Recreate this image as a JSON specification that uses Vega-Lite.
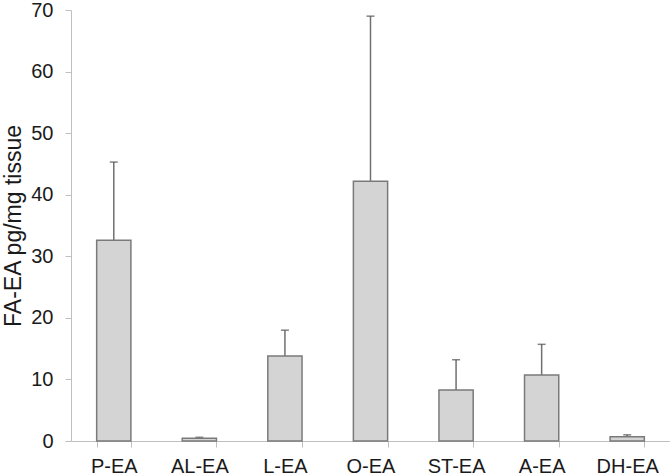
{
  "$schema": "https://vega.github.io/schema/vega-lite/v6.json",
  "width": 599,
  "height": 431,
  "autosize": {"type": "none"},
  "padding": {"left": 71, "top": 10, "right": 0, "bottom": 34},
  "background": "white",
  "config": {
    "view": {"stroke": null},
    "font": "Liberation Sans",
    "axis": {"labelFont": "Liberation Sans", "titleFont": "Liberation Sans", "labelColor": "#1a1a1a", "titleColor": "#1a1a1a", "labelFontSize": 20, "titleFontSize": 23, "titleFontWeight": "normal", "domainColor": "#bfbfbf", "tickColor": "#bfbfbf", "grid": false}
  },
  "data": {
    "values": [
      {"fa": "P-EA", "mean": 32.6, "upper": 45.3},
      {"fa": "AL-EA", "mean": 0.45, "upper": 0.6},
      {"fa": "L-EA", "mean": 13.8, "upper": 18.0},
      {"fa": "O-EA", "mean": 42.2, "upper": 69.0},
      {"fa": "ST-EA", "mean": 8.3, "upper": 13.2},
      {"fa": "A-EA", "mean": 10.7, "upper": 15.7},
      {"fa": "DH-EA", "mean": 0.7, "upper": 1.0}
    ]
  },
  "encoding": {
    "x": {
      "field": "fa", "type": "nominal", "sort": null,
      "scale": {"paddingInner": 0.6, "paddingOuter": 0.3},
      "axis": {"title": null, "labelAngle": 0, "tickBand": "extent", "tickSize": 6, "labelPadding": 9}
    }
  },
  "layer": [
    {
      "mark": {"type": "rule", "color": "#707070", "strokeWidth": 1.5},
      "encoding": {
        "y": {"field": "mean", "type": "quantitative"},
        "y2": {"field": "upper"}
      }
    },
    {
      "mark": {"type": "tick", "color": "#505050", "size": 8, "thickness": 1.5},
      "encoding": {
        "y": {"field": "upper", "type": "quantitative"}
      }
    },
    {
      "mark": {"type": "bar", "fill": "#d4d4d4", "stroke": "#7a7a7a", "strokeWidth": 1.5},
      "encoding": {
        "y": {
          "field": "mean", "type": "quantitative",
          "scale": {"domain": [0, 70], "nice": false},
          "axis": {"title": "FA-EA pg/mg tissue", "values": [0, 10, 20, 30, 40, 50, 60, 70], "tickSize": 6, "labelPadding": 12, "titlePadding": 5}
        }
      }
    }
  ]
}
